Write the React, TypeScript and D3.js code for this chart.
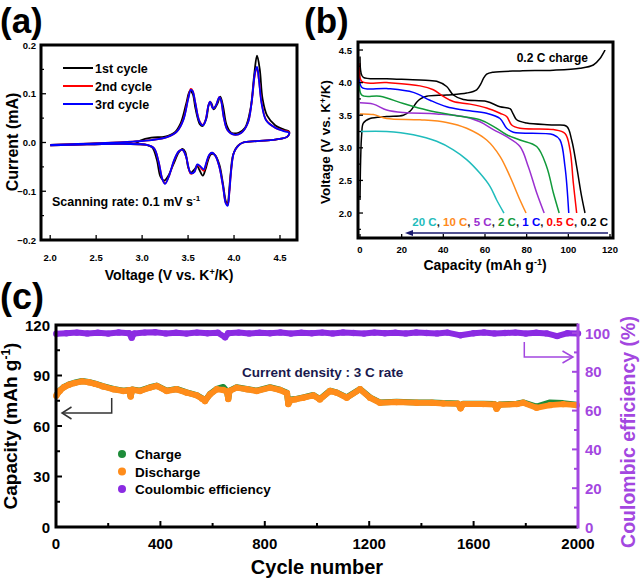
import React from 'react';
import * as d3 from 'd3';

const FONT = '"Liberation Sans", Arial, Helvetica, sans-serif';

type P = [number, number];

// ---------- Panel (a): cyclic voltammetry, [voltage V, current mA] ----------
const cvLabels = ['1st cycle', '2nd cycle', '3rd cycle'];
const cvColors = ['#000000', '#ff0000', '#0000ff'];
const cv1st: P[] = [
  [2.0, -0.005], [2.5, -0.002], [2.85, 0.0], [2.92, -0.003], [2.98, 0.004], [3.1, 0.01], [3.25, 0.012],
  [3.35, 0.02], [3.42, 0.04], [3.48, 0.08], [3.52, 0.106], [3.55, 0.1], [3.58, 0.07], [3.63, 0.037],
  [3.66, 0.034], [3.7, 0.05], [3.73, 0.08], [3.75, 0.082], [3.78, 0.068], [3.82, 0.08], [3.85, 0.094],
  [3.88, 0.075], [3.92, 0.035], [3.97, 0.02], [4.05, 0.02], [4.12, 0.03], [4.18, 0.07], [4.22, 0.14],
  [4.25, 0.178], [4.28, 0.15], [4.31, 0.09], [4.36, 0.055], [4.45, 0.035], [4.55, 0.026], [4.6, 0.022],
  [4.58, 0.012], [4.45, 0.006], [4.25, 0.003], [4.1, 0.0], [4.04, -0.007], [3.99, -0.025], [3.96, -0.07],
  [3.94, -0.115], [3.93, -0.128], [3.91, -0.12], [3.88, -0.085], [3.84, -0.045], [3.79, -0.025],
  [3.75, -0.024], [3.72, -0.035], [3.69, -0.055], [3.66, -0.068], [3.62, -0.055], [3.6, -0.048],
  [3.57, -0.055], [3.53, -0.062], [3.5, -0.05], [3.47, -0.02], [3.44, -0.013], [3.4, -0.02],
  [3.34, -0.045], [3.28, -0.07], [3.24, -0.078], [3.2, -0.07], [3.16, -0.035], [3.11, -0.01],
  [3.05, -0.005], [2.8, -0.003], [2.4, -0.004], [2.0, -0.006],
];
const cv2nd: P[] = [
  [2.0, -0.005], [2.3, -0.003], [2.6, -0.001], [2.9, 0.002], [3.1, 0.005], [3.27, 0.011], [3.38, 0.023],
  [3.45, 0.048], [3.5, 0.09], [3.53, 0.11], [3.55, 0.106], [3.58, 0.08], [3.62, 0.046], [3.66, 0.036],
  [3.69, 0.046], [3.72, 0.075], [3.74, 0.084], [3.77, 0.07], [3.8, 0.075], [3.84, 0.093], [3.86, 0.085],
  [3.89, 0.05], [3.93, 0.025], [4.0, 0.016], [4.08, 0.02], [4.15, 0.04], [4.19, 0.08], [4.23, 0.143],
  [4.25, 0.153], [4.27, 0.13], [4.3, 0.082], [4.35, 0.046], [4.45, 0.03], [4.55, 0.024], [4.6, 0.021],
  [4.58, 0.012], [4.45, 0.006], [4.25, 0.003], [4.1, 0.0], [4.05, -0.006], [4.0, -0.02], [3.97, -0.055],
  [3.95, -0.1], [3.93, -0.128], [3.91, -0.124], [3.88, -0.09], [3.84, -0.05], [3.8, -0.028],
  [3.76, -0.021], [3.73, -0.026], [3.7, -0.042], [3.67, -0.058], [3.63, -0.05], [3.6, -0.046],
  [3.57, -0.06], [3.53, -0.064], [3.51, -0.056], [3.48, -0.03], [3.44, -0.015], [3.4, -0.018],
  [3.35, -0.036], [3.29, -0.07], [3.25, -0.084], [3.22, -0.075], [3.18, -0.04], [3.13, -0.012],
  [3.05, -0.005], [2.8, -0.003], [2.4, -0.004], [2.0, -0.006],
];
const cv3rd: P[] = [
  [2.0, -0.005], [2.3, -0.003], [2.6, -0.001], [2.9, 0.002], [3.1, 0.005], [3.27, 0.011], [3.38, 0.023],
  [3.45, 0.047], [3.5, 0.088], [3.53, 0.108], [3.55, 0.105], [3.58, 0.08], [3.62, 0.045], [3.66, 0.035],
  [3.69, 0.045], [3.72, 0.075], [3.74, 0.084], [3.77, 0.07], [3.8, 0.075], [3.84, 0.093], [3.86, 0.085],
  [3.89, 0.05], [3.93, 0.025], [4.0, 0.016], [4.08, 0.02], [4.15, 0.04], [4.19, 0.08], [4.23, 0.145],
  [4.25, 0.155], [4.27, 0.13], [4.3, 0.08], [4.35, 0.045], [4.45, 0.03], [4.55, 0.023], [4.6, 0.02],
  [4.58, 0.012], [4.45, 0.006], [4.25, 0.003], [4.1, 0.0], [4.05, -0.006], [4.0, -0.02], [3.97, -0.055],
  [3.95, -0.1], [3.93, -0.13], [3.91, -0.125], [3.88, -0.09], [3.84, -0.05], [3.8, -0.028],
  [3.76, -0.021], [3.73, -0.025], [3.7, -0.04], [3.67, -0.055], [3.63, -0.048], [3.6, -0.045],
  [3.57, -0.06], [3.53, -0.063], [3.51, -0.055], [3.48, -0.03], [3.44, -0.015], [3.4, -0.018],
  [3.35, -0.035], [3.29, -0.07], [3.25, -0.085], [3.22, -0.075], [3.18, -0.04], [3.13, -0.012],
  [3.05, -0.005], [2.8, -0.003], [2.4, -0.004], [2.0, -0.006],
];
const aXTicks = [2.0, 2.5, 3.0, 3.5, 4.0, 4.5];
const aYTicks = [-0.2, -0.1, 0.0, 0.1, 0.2];
const aYMinor = [-0.15, -0.05, 0.05, 0.15];

// ---------- Panel (b): charge/discharge profiles, [capacity mAh/g, voltage V] ----------
const rateLabels = ['20 C', '10 C', '5 C', '2 C', '1 C', '0.5 C', '0.2 C'];
const rateColors = ['#1fbcbc', '#ff8a1c', '#9b30d0', '#119a3a', '#0000ff', '#ff0000', '#000000'];
const dis20C: P[] = [[0, 3.25], [12.8, 3.25], [25.6, 3.2], [36.8, 3.1], [44.8, 2.97], [51.2, 2.82], [57.6, 2.61], [62.4, 2.41], [65.6, 2.2], [69.1, 2.0]];
const dis10C: P[] = [[0, 3.52], [6.4, 3.51], [12.8, 3.45], [28.8, 3.43], [41.6, 3.39], [51.2, 3.3], [60.8, 3.12], [67.2, 2.87], [72, 2.56], [76.8, 2.2], [79.7, 2.0]];
const dis5C: P[] = [[0, 3.69], [6.4, 3.67], [12.8, 3.58], [20.8, 3.54], [36.8, 3.52], [49.6, 3.48], [57.6, 3.4], [64, 3.28], [70.4, 3.17], [76.8, 3.02], [80.8, 2.71], [84.8, 2.31], [88.4, 2.0]];
const dis2C: P[] = [[0, 4.15], [0.8, 3.81], [9.6, 3.79], [20.8, 3.68], [32, 3.58], [44.8, 3.5], [57.6, 3.43], [64, 3.33], [70.4, 3.2], [76.8, 3.12], [84.8, 3.02], [89.6, 2.71], [92.8, 2.31], [95.6, 2.0]];
const dis1C: P[] = [[0, 4.25], [0.8, 3.93], [12.8, 3.91], [25.6, 3.85], [33.6, 3.73], [41.6, 3.63], [49.6, 3.58], [60.8, 3.53], [67.2, 3.45], [70.4, 3.3], [73.6, 3.24], [92.8, 3.2], [96, 3.12], [98.4, 2.71], [100.2, 2.0]];
const dis05C: P[] = [[0, 4.3], [0.8, 4.02], [12.8, 4.0], [28.8, 3.95], [35.2, 3.89], [40, 3.79], [44.8, 3.71], [52.8, 3.67], [60.8, 3.61], [67.2, 3.53], [70.4, 3.48], [72.8, 3.35], [76.8, 3.3], [92.8, 3.28], [98.4, 3.22], [100.8, 2.97], [102.4, 2.46], [104, 2.0]];
const dis02C: P[] = [[0, 4.4], [0.5, 4.15], [1.6, 4.08], [12.8, 4.06], [28.8, 4.04], [36.8, 4.02], [41.6, 3.94], [44.8, 3.81], [49.6, 3.74], [60.8, 3.71], [67.2, 3.63], [72, 3.6], [73.5, 3.52], [75.2, 3.43], [80, 3.38], [92.8, 3.35], [99.2, 3.33], [101.6, 3.12], [104, 2.71], [106.4, 2.25], [108, 2.0]];
const chg02C: P[] = [[0, 2.2], [0.3, 2.8], [0.8, 3.2], [1.6, 3.38], [4.8, 3.45], [12.8, 3.48], [20.8, 3.5], [24, 3.56], [27.2, 3.7], [29, 3.75], [32, 3.79], [41.6, 3.81], [51.2, 3.84], [56, 3.89], [58, 3.98], [59.2, 4.06], [60.8, 4.13], [64, 4.16], [76.8, 4.18], [92.8, 4.19], [105.6, 4.22], [112, 4.27], [115.2, 4.37], [117.6, 4.5]];
const bXTicks = [0, 20, 40, 60, 80, 100, 120];
const bYTicks = [2.0, 2.5, 3.0, 3.5, 4.0, 4.5];
const bYMinor = [1.75, 2.25, 2.75, 3.25, 3.75, 4.25];

// ---------- Panel (c): long-term cycling ----------
const capCycles = [1, 15, 30, 50, 70, 100, 125, 150, 180, 220, 258, 280, 286, 292, 322, 360, 386, 424, 462, 501, 539, 560, 571, 590, 616, 641, 655, 660, 665, 692, 731, 769, 820, 858, 885, 890, 900, 916, 947, 986, 1011, 1050, 1075, 1114, 1165, 1203, 1241, 1305, 1382, 1440, 1484, 1540, 1550, 1560, 1637, 1680, 1688, 1700, 1765, 1790, 1841, 1893, 1943, 1995];
const dischargeCap = [78, 81, 83, 84.5, 85.5, 86.5, 86, 85, 83.5, 81.8, 80.8, 81.2, 77.5, 81.5, 80.8, 82.8, 83.8, 80.8, 81.8, 79.8, 78.2, 76.2, 74.8, 78.8, 81.8, 81.4, 80.5, 76, 80.8, 82.8, 81.8, 80.8, 82.8, 81.4, 79.5, 73, 75.5, 75.8, 76.8, 78.2, 75.8, 80.8, 79.8, 76.8, 81.8, 76.8, 73.8, 74.2, 73.8, 73.8, 73.4, 73.2, 70.5, 73, 73, 72.8, 70.2, 72.6, 73, 73.8, 70.8, 72.4, 73, 72.4];
const chargeCap = [78.2, 81.2, 83.2, 84.7, 85.7, 86.7, 86.2, 85.2, 83.7, 82.0, 81.0, 81.4, 77.7, 81.7, 81.0, 83.0, 84.0, 81.0, 82.0, 80.0, 78.4, 76.4, 75.0, 79.0, 82.0, 83.2, 80.7, 76.2, 81.0, 83.0, 82.0, 81.0, 83.0, 81.6, 79.7, 73.2, 75.7, 76.0, 77.0, 78.4, 76.0, 81.0, 80.0, 77.0, 82.0, 77.0, 74.0, 74.4, 74.0, 74.0, 73.6, 73.4, 70.7, 73.2, 73.2, 73.0, 70.4, 72.8, 73.2, 74.0, 71.5, 74.0, 73.6, 72.6];
const ceCycles = [1, 40, 80, 120, 160, 200, 240, 280, 290, 300, 340, 380, 420, 460, 500, 540, 580, 620, 648, 660, 700, 740, 780, 820, 860, 900, 940, 980, 1020, 1060, 1100, 1140, 1180, 1220, 1260, 1300, 1340, 1380, 1420, 1460, 1500, 1550, 1600, 1640, 1680, 1720, 1760, 1800, 1840, 1880, 1920, 1960, 2000];
const ceValues = [99.6, 99.9, 100.2, 99.8, 100.1, 99.7, 100.3, 99.9, 97.6, 99.8, 100.2, 100.4, 99.8, 100.1, 99.7, 100.2, 99.9, 100.1, 97.8, 99.9, 100.2, 99.8, 100.1, 99.9, 100.3, 99.7, 100.1, 99.9, 100.2, 99.8, 100.3, 100.0, 99.7, 100.2, 99.9, 100.1, 99.8, 100.3, 100.0, 99.8, 100.2, 98.8, 99.9, 100.3, 99.8, 100.0, 100.2, 99.7, 100.1, 99.8, 98.4, 99.9, 99.8];
const cLegend = ['Charge', 'Discharge', 'Coulombic efficiency'];
const cColors = ['#1e8c3a', '#ff8c1a', '#8b2be2'];
const cXTicks = [0, 400, 800, 1200, 1600, 2000];
const cXMinor = [200, 600, 1000, 1400, 1800];
const cYTicks = [0, 30, 60, 90, 120];
const cYMinor = [15, 45, 75, 105];
const cRTicks = [0, 20, 40, 60, 80, 100];
const cRMinor = [10, 30, 50, 70, 90];

const PURPLE = '#a347e0';

export default function App() {
  const xA = d3.scaleLinear().domain([1.9, 4.685]).range([41, 297]);
  const yA = d3.scaleLinear().domain([-0.2, 0.2]).range([240, 45]);
  const xB = d3.scaleLinear().domain([-0.96, 121.44]).range([358, 613]);
  const yB = d3.scaleLinear().domain([1.617, 4.623]).range([238, 42]);
  const xC = d3.scaleLinear().domain([0, 2000]).range([56, 578]);
  const yC = d3.scaleLinear().domain([0, 120]).range([527, 325]);
  const yCE = d3.scaleLinear().domain([0, 100]).range([527, 333]);

  const lineA = d3.line<P>().x(d => xA(d[0])).y(d => yA(d[1])).curve(d3.curveCatmullRom.alpha(0.5));
  const lineB = d3.line<P>().x(d => xB(d[0])).y(d => yB(d[1])).curve(d3.curveCatmullRom.alpha(0.5));
  const lineC = d3.line<P>().x(d => xC(d[0])).y(d => yC(d[1]));
  const lineCE = d3.line<P>().x(d => xC(d[0])).y(d => yCE(d[1]));

  const f1 = d3.format('.1f');
  const cvSets = [cv1st, cv2nd, cv3rd];
  const disSets = [dis20C, dis10C, dis5C, dis2C, dis1C, dis05C, dis02C];
  const dischargePts: P[] = capCycles.map((c, i) => [c, dischargeCap[i]]);
  const chargePts: P[] = capCycles.map((c, i) => [c, chargeCap[i]]);
  const cePts: P[] = ceCycles.map((c, i) => [c, ceValues[i]]);

  const bold = { fontFamily: FONT, fontWeight: 'bold' as const };

  return (
    <svg width={640} height={580} style={{ position: 'absolute', left: 0, top: 0, background: '#fff' }}>
      <rect x={0} y={0} width={640} height={580} fill="#fff" />

      {/* ================= Panel (a) ================= */}
      <text x={0} y={33} fontSize={35} {...bold}>(a)</text>
      <g>
        {cvSets.map((s, i) => (
          <path key={i} d={lineA(s) || ''} fill="none" stroke={cvColors[i]} strokeWidth={1.8} />
        ))}
        {aYTicks.map(t => (
          <g key={'ay' + t}>
            <line x1={41} x2={46} y1={yA(t)} y2={yA(t)} stroke="#000" strokeWidth={1.3} />
            <text x={36} y={yA(t) + 3.5} fontSize={9.5} textAnchor="end" {...bold}>{f1(t)}</text>
          </g>
        ))}
        {aYMinor.map(t => (
          <line key={'aym' + t} x1={41} x2={44} y1={yA(t)} y2={yA(t)} stroke="#000" strokeWidth={1.2} />
        ))}
        {aXTicks.map(t => (
          <g key={'ax' + t}>
            <line x1={xA(t)} x2={xA(t)} y1={240} y2={235} stroke="#000" strokeWidth={1.3} />
            <text x={xA(t)} y={261} fontSize={9.5} textAnchor="middle" {...bold}>{f1(t)}</text>
          </g>
        ))}
        <rect x={41} y={45} width={256} height={195} fill="none" stroke="#000" strokeWidth={3} />
        {cvLabels.map((l, i) => (
          <g key={l}>
            <line x1={63} x2={93} y1={68 + i * 18} y2={68 + i * 18} stroke={cvColors[i]} strokeWidth={2} />
            <text x={95} y={72.5 + i * 18} fontSize={12.5} {...bold}>{l}</text>
          </g>
        ))}
        <text x={52} y={206} fontSize={12.5} {...bold}>
          Scanning rate: 0.1 mV s<tspan dy={-5} fontSize={8}>-1</tspan>
        </text>
        <text transform={`translate(18,142) rotate(-90)`} fontSize={16} textAnchor="middle" {...bold}>Current (mA)</text>
        <text x={169} y={280} fontSize={14} textAnchor="middle" {...bold}>
          Voltage (V vs. K<tspan dy={-5} fontSize={9}>+</tspan><tspan dy={5}>/K)</tspan>
        </text>
      </g>

      {/* ================= Panel (b) ================= */}
      <text x={304} y={33} fontSize={35} {...bold}>(b)</text>
      <g>
        <path d={lineB(chg02C) || ''} fill="none" stroke="#000" strokeWidth={1.5} />
        {disSets.map((s, i) => (
          <path key={i} d={lineB(s) || ''} fill="none" stroke={rateColors[i]} strokeWidth={1.5} />
        ))}
        {bYTicks.map(t => (
          <g key={'by' + t}>
            <line x1={358} x2={363} y1={yB(t)} y2={yB(t)} stroke="#000" strokeWidth={1.3} />
            <text x={352} y={yB(t) + 3.5} fontSize={9.5} textAnchor="end" {...bold}>{f1(t)}</text>
          </g>
        ))}
        {bYMinor.map(t => (
          <line key={'bym' + t} x1={358} x2={361} y1={yB(t)} y2={yB(t)} stroke="#000" strokeWidth={1.2} />
        ))}
        {bXTicks.map(t => (
          <g key={'bx' + t}>
            <line x1={xB(t)} x2={xB(t)} y1={238} y2={234} stroke="#000" strokeWidth={1.3} />
            <text x={xB(t)} y={253} fontSize={9.5} textAnchor="middle" {...bold}>{t}</text>
          </g>
        ))}
        <rect x={358} y={42} width={255} height={196} fill="none" stroke="#000" strokeWidth={3} />
        <text x={588} y={62} fontSize={12} textAnchor="end" {...bold}>0.2 C charge</text>
        <text x={608} y={226} fontSize={11.5} textAnchor="end" {...bold}>
          {rateLabels.map((l, i) => (
            <React.Fragment key={l}>
              <tspan fill={rateColors[i]}>{l}</tspan>
              {i < rateLabels.length - 1 ? <tspan fill="#222">, </tspan> : null}
            </React.Fragment>
          ))}
        </text>
        <line x1={608} x2={410} y1={233} y2={233} stroke="#1a1a6e" strokeWidth={1.5} />
        <path d="M405,233 L413,230 L413,236 Z" fill="#1a1a6e" />
        <text transform={`translate(330,142) rotate(-90)`} fontSize={13.5} textAnchor="middle" {...bold}>
          Voltage (V vs. K<tspan dy={-4} fontSize={8.5}>+</tspan><tspan dy={4}>/K)</tspan>
        </text>
        <text x={485} y={270} fontSize={14} textAnchor="middle" {...bold}>
          Capacity (mAh g<tspan dy={-5} fontSize={9}>-1</tspan><tspan dy={5}>)</tspan>
        </text>
      </g>

      {/* ================= Panel (c) ================= */}
      <text x={0} y={309} fontSize={36} {...bold}>(c)</text>
      <g>
        <path d={lineCE(cePts) || ''} fill="none" stroke={cColors[2]} strokeWidth={6} strokeLinejoin="round" />
        {cePts.map((d, i) => (
          <circle key={'ce' + i} cx={xC(d[0])} cy={yCE(d[1])} r={3.2} fill={cColors[2]} />
        ))}
        <path d={lineC(chargePts) || ''} fill="none" stroke={cColors[0]} strokeWidth={6} strokeLinejoin="round" />
        <path d={lineC(dischargePts) || ''} fill="none" stroke={cColors[1]} strokeWidth={6} strokeLinejoin="round" />
        {dischargePts.map((d, i) => (
          <circle key={'dc' + i} cx={xC(d[0])} cy={yC(d[1])} r={3.2} fill={cColors[1]} />
        ))}
        {cYTicks.map(t => (
          <g key={'cy' + t}>
            <line x1={56} x2={62} y1={yC(t)} y2={yC(t)} stroke="#000" strokeWidth={2} />
            <text x={50} y={yC(t) + 5.5} fontSize={15} textAnchor="end" {...bold}>{t}</text>
          </g>
        ))}
        {cYMinor.map(t => (
          <line key={'cym' + t} x1={56} x2={60} y1={yC(t)} y2={yC(t)} stroke="#000" strokeWidth={2} />
        ))}
        {cXTicks.map(t => (
          <g key={'cx' + t}>
            <line x1={xC(t)} x2={xC(t)} y1={527} y2={521} stroke="#000" strokeWidth={2} />
            <text x={xC(t)} y={549} fontSize={15} textAnchor="middle" {...bold}>{t}</text>
          </g>
        ))}
        {cXMinor.map(t => (
          <line key={'cxm' + t} x1={xC(t)} x2={xC(t)} y1={527} y2={523} stroke="#000" strokeWidth={2} />
        ))}
        {cRTicks.map(t => (
          <g key={'cr' + t}>
            <line x1={578} x2={572} y1={yCE(t)} y2={yCE(t)} stroke={PURPLE} strokeWidth={2} />
            <text x={585} y={yCE(t) + 5.5} fontSize={15} fill={PURPLE} {...bold}>{t}</text>
          </g>
        ))}
        {cRMinor.map(t => (
          <line key={'crm' + t} x1={578} x2={574} y1={yCE(t)} y2={yCE(t)} stroke={PURPLE} strokeWidth={2} />
        ))}
        <path d="M578,325 L56,325 L56,527 L578,527" fill="none" stroke="#000" strokeWidth={3} />
        <line x1={578} x2={578} y1={323.5} y2={528.5} stroke={PURPLE} strokeWidth={3} />
        <path d="M111.7,398 L111.7,413 L62,413" fill="none" stroke="#333" strokeWidth={1.5} />
        <path d="M71.5,407 L62,413 L71.5,419" fill="none" stroke="#333" strokeWidth={1.5} />
        <path d="M524.3,342 L524.3,357 L573,357" fill="none" stroke={PURPLE} strokeWidth={1.5} />
        <path d="M562.5,351 L573,357 L562.5,363" fill="none" stroke={PURPLE} strokeWidth={1.5} />
        <text x={242} y={377} fontSize={13.5} fill="#1a1a4e" {...bold}>Current density : 3 C rate</text>
        {cLegend.map((l, i) => (
          <g key={l}>
            <circle cx={122} cy={454 + i * 17.5} r={4} fill={cColors[i]} />
            <text x={135} y={459 + i * 17.5} fontSize={13.5} {...bold}>{l}</text>
          </g>
        ))}
        <text transform={`translate(17,426) rotate(-90)`} fontSize={19} textAnchor="middle" {...bold}>
          Capacity (mAh g<tspan dy={-7} fontSize={12}>-1</tspan><tspan dy={7}>)</tspan>
        </text>
        <text x={317} y={574} fontSize={20} textAnchor="middle" {...bold}>Cycle number</text>
        <text transform={`translate(635,432) rotate(-90)`} fontSize={19.5} textAnchor="middle" fill={PURPLE} {...bold}>
          Coulombic efficiency (%)
        </text>
      </g>
    </svg>
  );
}
